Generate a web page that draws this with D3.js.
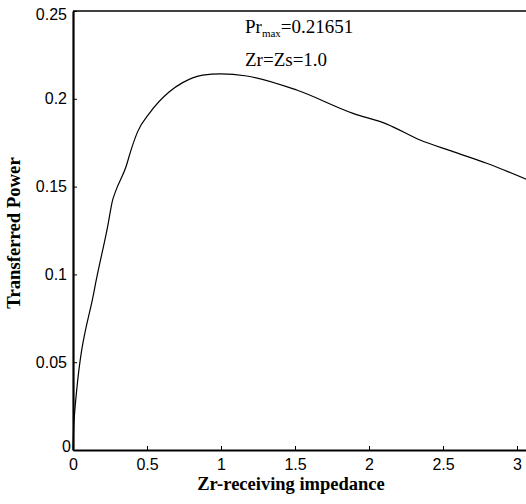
<!DOCTYPE html>
<html><head><meta charset="utf-8">
<script src="https://cdn.jsdelivr.net/npm/d3@7"></script>
<style>body{margin:0;background:#fff}svg{display:block}</style>
</head><body>
<svg id="c" width="526" height="504"></svg>
<script>
const zr = [0, 0.007, 0.144, 0.234, 0.268, 0.291, 0.358, 0.392, 0.437, 0.516, 0.651, 0.741, 0.876, 1.0, 1.174, 1.511, 1.892, 2.12, 2.345, 2.568, 2.795, 3.1];
const power = [0, 0.017, 0.0911, 0.1272, 0.1424, 0.148, 0.1613, 0.1708, 0.1813, 0.1917, 0.204, 0.2092, 0.2135, 0.2142, 0.213, 0.205, 0.1917, 0.1856, 0.1765, 0.1699, 0.1633, 0.1528];
const xTicks = [0, 0.5, 1, 1.5, 2, 2.5, 3];
const yTicks = [0, 0.05, 0.1, 0.15, 0.2, 0.25];
const xTickLabels = ["0", "0.5", "1", "1.5", "2", "2.5", "3"];
const yTickLabels = ["0", "0.05", "0.1", "0.15", "0.2", "0.25"];

const svg = d3.select("#c");
const L = 73, R = 531.8, T = 11, B = 450;
const x = d3.scaleLinear().domain([0, 3.1]).range([L, R]);
const y = d3.scaleLinear().domain([0, 0.25]).range([B, T]);

// top frame line
svg.append("line").attr("x1", L).attr("x2", R).attr("y1", T).attr("y2", T).attr("stroke", "#000").attr("stroke-width", 1.5);

const xAxis = svg.append("g").attr("transform", `translate(0,${B})`)
  .call(d3.axisBottom(x).tickValues(xTicks).tickFormat((d,i)=>xTickLabels[i]).tickSizeInner(-4).tickSizeOuter(0).tickPadding(9));
const yAxis = svg.append("g").attr("transform", `translate(${L},0)`)
  .call(d3.axisLeft(y).tickValues(yTicks).tickFormat((d,i)=>yTickLabels[i]).tickSizeInner(-4).tickSizeOuter(0).tickPadding(6));
[xAxis, yAxis].forEach(g => {
  g.select(".domain").attr("stroke-width", 2.2);
  g.selectAll("text").attr("font-family", "'Liberation Sans', Arial, sans-serif").attr("font-size", 16).attr("fill", "#000");
  g.selectAll(".tick line").attr("stroke-width", 1);
});
yAxis.selectAll(".tick text").filter(d => d === 0.25).attr("dy", "0.55em");
yAxis.selectAll(".tick text").filter(d => d === 0).attr("x", -2).attr("dy", "0.1em");

const line = d3.line().x((d,i)=>x(zr[i])).y((d,i)=>y(power[i])).curve(d3.curveMonotoneX);
svg.append("path").datum(power).attr("d", line).attr("fill", "none").attr("stroke", "#000").attr("stroke-width", 1.2);

// annotations
const serif = "'Liberation Serif', 'Times New Roman', serif";
const ann = svg.append("text").attr("x", 245).attr("y", 33).attr("font-family", serif).attr("font-size", 19);
ann.append("tspan").text("Pr");
ann.append("tspan").text("max").attr("font-size", 11).attr("dy", 4);
ann.append("tspan").text("=0.21651").attr("dy", -4);
svg.append("text").attr("x", 245).attr("y", 66).attr("font-family", serif).attr("font-size", 19).text("Zr=Zs=1.0");

svg.append("text").attr("x", 291).attr("y", 490).attr("text-anchor", "middle")
  .attr("font-family", serif).attr("font-weight", "bold").attr("font-size", 18.5)
  .text("Zr-receiving impedance");
svg.append("text").attr("transform", "translate(20,233) rotate(-90)").attr("text-anchor", "middle")
  .attr("font-family", serif).attr("font-weight", "bold").attr("font-size", 18.7)
  .text("Transferred Power");
</script>
</body></html>
